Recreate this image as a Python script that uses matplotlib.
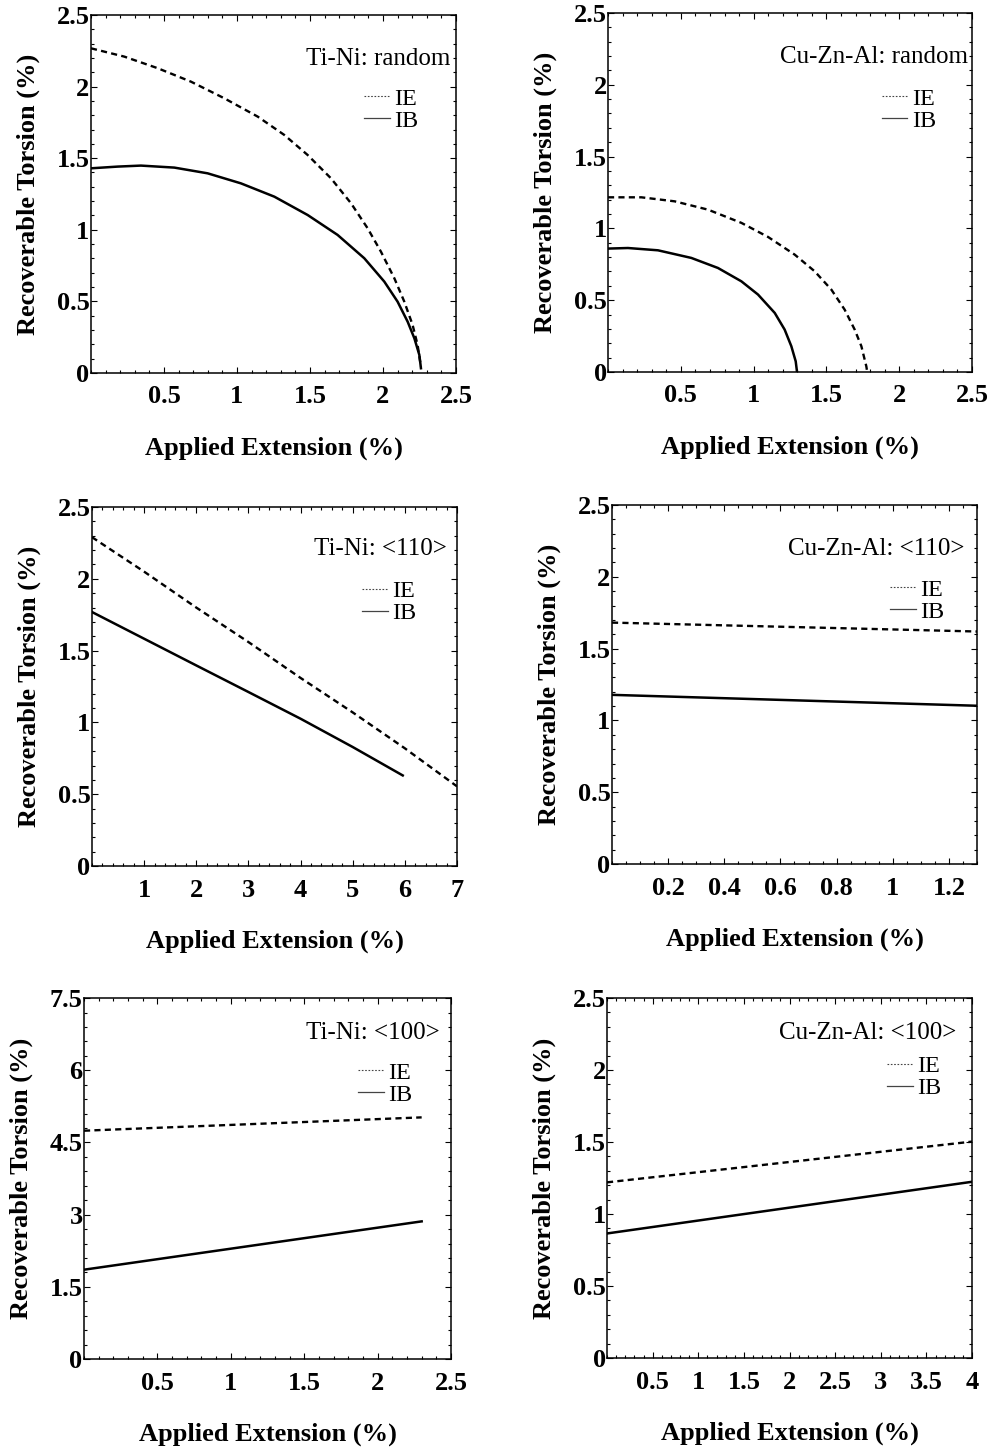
import matplotlib
matplotlib.use("Agg")
import matplotlib.pyplot as plt
from matplotlib.lines import Line2D
from matplotlib.ticker import MultipleLocator

plt.rcParams['font.family'] = ['Liberation Serif', 'DejaVu Serif']

# ---- data ----
# Ti-Ni: random
tini_rand_x_ie = [0, 0.228, 0.457, 0.685, 0.913, 1.142, 1.324, 1.484, 1.644, 1.781, 1.895,
                  1.986, 2.078, 2.146, 2.203, 2.237, 2.26]
tini_rand_ie = [2.267, 2.209, 2.128, 2.034, 1.918, 1.79, 1.662, 1.522, 1.359, 1.185, 1.01,
                0.847, 0.661, 0.498, 0.335, 0.196, 0.044]
tini_rand_x_ib = [0, 0.183, 0.342, 0.571, 0.799, 1.027, 1.256, 1.484, 1.689, 1.872, 2.009,
                  2.1, 2.169, 2.215, 2.249, 2.26]
tini_rand_ib = [1.429, 1.441, 1.448, 1.434, 1.394, 1.324, 1.231, 1.103, 0.964, 0.801, 0.638,
                0.498, 0.358, 0.242, 0.126, 0.033]

# Cu-Zn-Al: random
cuzn_rand_x_ie = [0, 0.229, 0.458, 0.687, 0.916, 1.099, 1.282, 1.419, 1.534, 1.625, 1.694,
                  1.74, 1.774, 1.78]
cuzn_rand_ie = [1.216, 1.216, 1.188, 1.13, 1.038, 0.94, 0.817, 0.701, 0.573, 0.434, 0.295,
                0.179, 0.039, 0.0]
cuzn_rand_x_ib = [0, 0.137, 0.343, 0.572, 0.755, 0.916, 1.03, 1.145, 1.213, 1.259, 1.289, 1.298]
cuzn_rand_ib = [0.859, 0.863, 0.847, 0.794, 0.724, 0.631, 0.539, 0.411, 0.295, 0.179, 0.074, 0.0]

# Ti-Ni: <110>
tini_110_x_ie = [0, 1, 2, 3, 4, 5, 6, 7]
tini_110_ie = [2.29, 2.05, 1.80, 1.56, 1.31, 1.07, 0.82, 0.555]
tini_110_x_ib = [0, 1, 2, 3, 4, 5, 5.96]
tini_110_ib = [1.769, 1.583, 1.397, 1.212, 1.026, 0.829, 0.631]

# Cu-Zn-Al: <110>
cuzn_110_x = [0, 1.3]
cuzn_110_ie = [1.681, 1.619]
cuzn_110_ib = [1.178, 1.102]

# Ti-Ni: <100>
tini_100_x = [0, 2.3]
tini_100_ie = [4.744, 5.021]
tini_100_ib = [1.856, 2.86]

# Cu-Zn-Al: <100>
cuzn_100_x = [0, 4]
cuzn_100_ie = [1.22, 1.503]
cuzn_100_ib = [0.865, 1.224]

# ticks
ticks_25 = [0, 0.5, 1, 1.5, 2, 2.5]
labels_25 = ["0", "0.5", "1", "1.5", "2", "2.5"]
xticks_25 = [0.5, 1, 1.5, 2, 2.5]
xlabels_25 = ["0.5", "1", "1.5", "2", "2.5"]
xticks_7 = [1, 2, 3, 4, 5, 6, 7]
xlabels_7 = ["1", "2", "3", "4", "5", "6", "7"]
xticks_13 = [0.2, 0.4, 0.6, 0.8, 1.0, 1.2]
xlabels_13 = ["0.2", "0.4", "0.6", "0.8", "1", "1.2"]
yticks_75 = [0, 1.5, 3, 4.5, 6, 7.5]
ylabels_75 = ["0", "1.5", "3", "4.5", "6", "7.5"]
xticks_4 = [0.5, 1, 1.5, 2, 2.5, 3, 3.5, 4]
xlabels_4 = ["0.5", "1", "1.5", "2", "2.5", "3", "3.5", "4"]

panels = [
    dict(title="Ti-Ni: random", pos=[0.0916, 0.7426, 0.3676, 0.2471],
         xie=tini_rand_x_ie, ie=tini_rand_ie, xib=tini_rand_x_ib, ib=tini_rand_ib,
         xlim=2.5, ylim=2.5, xt=xticks_25, xl=xlabels_25, yt=ticks_25, yl=labels_25,
         xminor=0.1, yminor=0.1, tx=0.984, ty=0.878, lx=0.748, ly=0.735),
    dict(title="Cu-Zn-Al: random", pos=[0.6123, 0.7433, 0.3666, 0.2478],
         xie=cuzn_rand_x_ie, ie=cuzn_rand_ie, xib=cuzn_rand_x_ib, ib=cuzn_rand_ib,
         xlim=2.5, ylim=2.5, xt=xticks_25, xl=xlabels_25, yt=ticks_25, yl=labels_25,
         xminor=0.1, yminor=0.1, tx=0.988, ty=0.876, lx=0.752, ly=0.73),
    dict(title="Ti-Ni: <110>", pos=[0.0926, 0.4023, 0.3676, 0.2478],
         xie=tini_110_x_ie, ie=tini_110_ie, xib=tini_110_x_ib, ib=tini_110_ib,
         xlim=7, ylim=2.5, xt=xticks_7, xl=xlabels_7, yt=ticks_25, yl=labels_25,
         xminor=0.2, yminor=0.1, tx=0.972, ty=0.882, lx=0.74, ly=0.735),
    dict(title="Cu-Zn-Al: <110>", pos=[0.6163, 0.4037, 0.3676, 0.2478],
         xie=cuzn_110_x, ie=cuzn_110_ie, xib=cuzn_110_x, ib=cuzn_110_ib,
         xlim=1.3, ylim=2.5, xt=xticks_13, xl=xlabels_13, yt=ticks_25, yl=labels_25,
         xminor=0.05, yminor=0.1, tx=0.967, ty=0.877, lx=0.762, ly=0.733),
    dict(title="Ti-Ni: <100>", pos=[0.0846, 0.0621, 0.3696, 0.2491],
         xie=tini_100_x, ie=tini_100_ie, xib=tini_100_x, ib=tini_100_ib,
         xlim=2.5, ylim=7.5, xt=xticks_25, xl=xlabels_25, yt=yticks_75, yl=ylabels_75,
         xminor=0.1, yminor=0.3, tx=0.97, ty=0.903, lx=0.747, ly=0.762),
    dict(title="Cu-Zn-Al: <100>", pos=[0.6113, 0.0628, 0.3676, 0.2484],
         xie=cuzn_100_x, ie=cuzn_100_ie, xib=cuzn_100_x, ib=cuzn_100_ib,
         xlim=4, ylim=2.5, xt=xticks_4, xl=xlabels_4, yt=ticks_25, yl=labels_25,
         xminor=0.1, yminor=0.1, tx=0.956, ty=0.903, lx=0.767, ly=0.78),
]

fig = plt.figure(figsize=(9.93, 14.49), dpi=100)

for p in panels:
    ax = fig.add_axes(p["pos"])
    ax.plot(p["xie"], p["ie"], color='black', lw=1.7, linestyle=(0, (2.6, 1.8)))
    ax.plot(p["xib"], p["ib"], color='black', lw=1.8)
    ax.set_xlim(0, p["xlim"])
    ax.set_ylim(0, p["ylim"])

    ax.set_xticks(p["xt"])
    ax.set_xticklabels(p["xl"], fontsize=19, fontweight='bold')
    ax.set_yticks(p["yt"])
    ax.set_yticklabels(p["yl"], fontsize=19, fontweight='bold')
    ax.xaxis.set_minor_locator(MultipleLocator(p["xminor"]))
    ax.yaxis.set_minor_locator(MultipleLocator(p["yminor"]))
    ax.tick_params(which='both', direction='in', top=True, right=True, width=0.8)
    ax.tick_params(which='major', length=4.5)
    ax.tick_params(which='minor', length=2.5)
    ax.tick_params(axis='x', pad=9)
    ax.tick_params(axis='y', pad=1)
    for s in ax.spines.values():
        s.set_linewidth(1.1)

    ax.set_xlabel("Applied Extension (%)", fontsize=19, fontweight='bold', labelpad=20)
    ax.set_ylabel("Recoverable Torsion (%)", fontsize=19, fontweight='bold', labelpad=12)

    ax.text(p["tx"], p["ty"], p["title"], transform=ax.transAxes,
            ha='right', va='center', fontsize=18)

    handles = [Line2D([], [], color='#444444', lw=0.8, linestyle=(0, (1.5, 1.5))),
               Line2D([], [], color='#444444', lw=0.9)]
    ax.legend(handles, ["IE", "IB"], loc='center left', bbox_to_anchor=(p["lx"], p["ly"]),
              frameon=False, fontsize=17.5, handlelength=1.05, handletextpad=0.2,
              labelspacing=0.0, borderpad=0, borderaxespad=0)

fig.savefig("out.png", dpi=100)
